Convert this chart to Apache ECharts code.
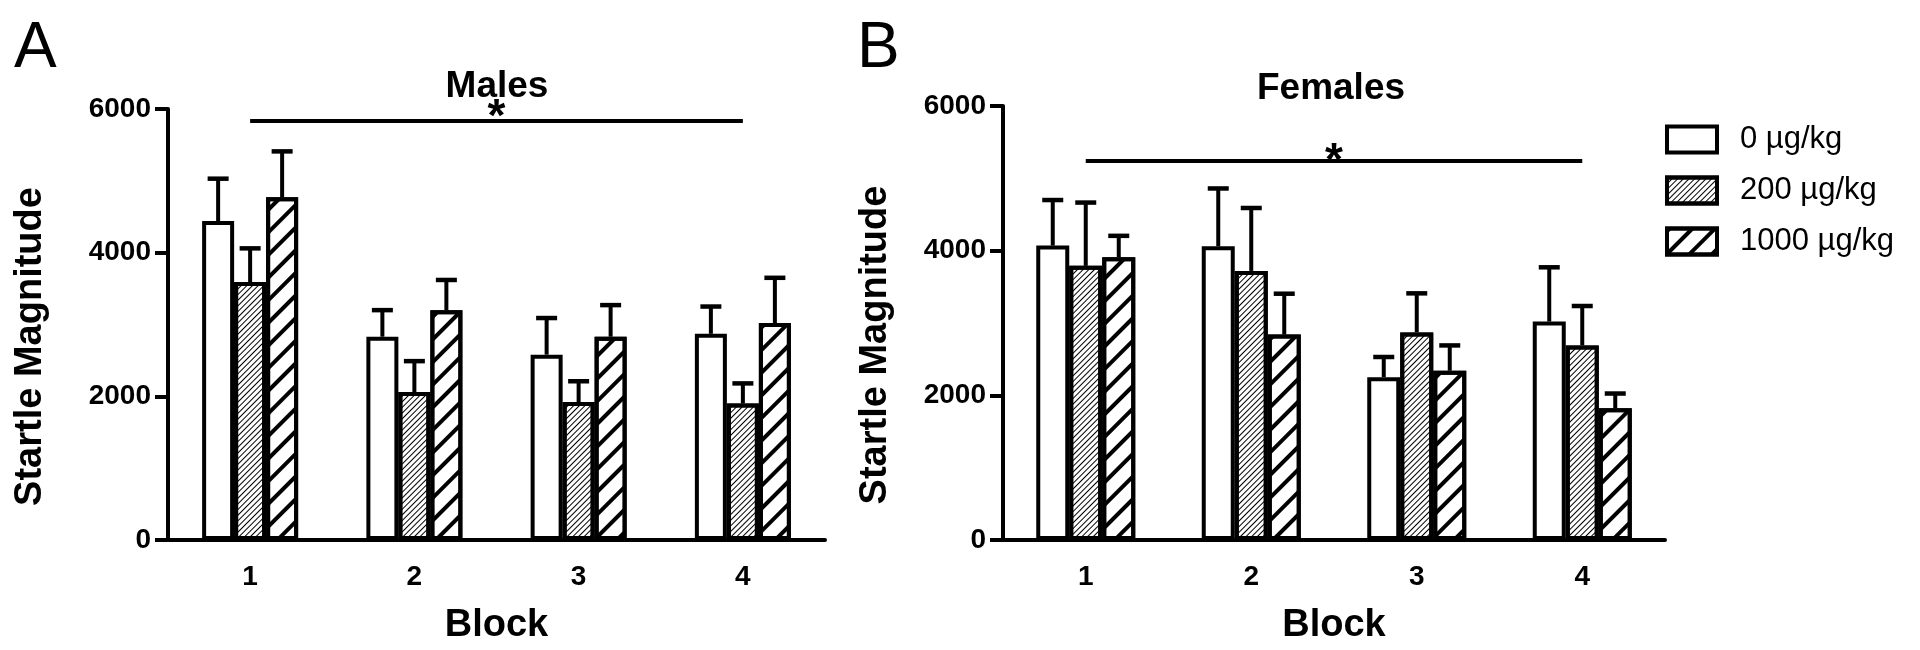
<!DOCTYPE html>
<html>
<head>
<meta charset="utf-8">
<script src="https://cdn.jsdelivr.net/npm/echarts@6/dist/echarts.min.js"></script>
<style>
html,body{margin:0;padding:0;background:#fff;}
#chart{width:1920px;height:650px;}
</style>
</head>
<body>
<div id="chart"></div>
<script>
// ---- data ----
const blocks = ['1', '2', '3', '4'];
const doseNames = ['0 µg/kg', '200 µg/kg', '1000 µg/kg'];
const yTicks = [0, 2000, 4000, 6000];

const male0 = [4440, 2830, 2580, 2870];
const male0Sem = [590, 370, 510, 380];
const male200 = [3590, 2060, 1920, 1900];
const male200Sem = [470, 430, 290, 280];
const male1000 = [4770, 3200, 2830, 3020];
const male1000Sem = [640, 420, 440, 630];

const female0 = [4070, 4060, 2250, 3020];
const female0Sem = [630, 800, 280, 750];
const female200 = [3790, 3720, 2870, 2690];
const female200Sem = [875, 870, 540, 545];
const female1000 = [3910, 2840, 2340, 1820];
const female1000Sem = [295, 565, 350, 205];

const maleSig = { from: '1', to: '4', level: 5830, label: '*' };
const femaleSig = { from: '1', to: '4', level: 5240, label: '*' };

// ---- style ----
const FONT = "'Liberation Sans', Arial, Helvetica, sans-serif";
const LW = 4;
const BAR_W = [32, 33];
const CAP_W = 21;
const decals = [
  null,
  { symbol: 'rect', symbolSize: 1, dashArrayX: [1, 0], dashArrayY: [1, 2.3], rotation: -Math.PI / 4, color: '#000' },
  { symbol: 'rect', symbolSize: 1, dashArrayX: [1, 0], dashArrayY: [3.2, 11.3], rotation: -Math.PI / 4, color: '#000' }
];

const chart = echarts.init(document.getElementById('chart'), null, { renderer: 'canvas' });

function errRender(offsetIdx, barW) {
  return function (params, api) {
    const x = api.value(0), top = api.value(1), mean = api.value(2);
    const pTop = api.coord([x, top]);
    const pMean = api.coord([x, mean]);
    const cx = pTop[0] + offsetIdx * barW;
    return {
      type: 'group',
      children: [
        { type: 'line', shape: { x1: cx, y1: pMean[1], x2: cx, y2: pTop[1] }, style: { stroke: '#000', lineWidth: LW } },
        { type: 'line', shape: { x1: cx - CAP_W / 2, y1: pTop[1], x2: cx + CAP_W / 2, y2: pTop[1] }, style: { stroke: '#000', lineWidth: 4.5 } }
      ]
    };
  };
}

const panels = [
  { means: [male0, male200, male1000], sems: [male0Sem, male200Sem, male1000Sem], sig: maleSig, starGap: -20 },
  { means: [female0, female200, female1000], sems: [female0Sem, female200Sem, female1000Sem], sig: femaleSig, starGap: -24 }
];

const series = [];
panels.forEach((p, gi) => {
  p.means.forEach((vals, si) => {
    const s = {
      name: doseNames[si],
      type: 'bar',
      xAxisIndex: gi, yAxisIndex: gi,
      data: vals,
      barWidth: BAR_W[gi],
      barGap: '0%',
      z: 3,
      itemStyle: { color: '#fff', borderColor: '#000', borderWidth: LW, decal: decals[si] || undefined },
      emphasis: { disabled: true },
      animation: false
    };
    if (si === 1) {
      s.markLine = {
        silent: true, symbol: 'none', animation: false,
        lineStyle: { color: '#000', width: LW, type: 'solid' },
        label: { show: true, position: 'middle', formatter: p.sig.label, color: '#000', fontFamily: FONT, fontWeight: 'bold', fontSize: 46, distance: p.starGap },
        data: [[{ xAxis: p.sig.from, yAxis: p.sig.level }, { xAxis: p.sig.to, yAxis: p.sig.level }]]
      };
    }
    series.push(s);
  });
  p.means.forEach((vals, si) => {
    series.push({
      name: 'err-' + gi + '-' + si,
      type: 'custom',
      xAxisIndex: gi, yAxisIndex: gi,
      z: 2,
      silent: true,
      animation: false,
      renderItem: errRender(si - 1, BAR_W[gi]),
      data: vals.map((v, i) => [i, v + p.sems[si][i], v])
    });
  });
});

const grids = [
  { left: 168, top: 109, width: 657, height: 437.5 },
  { left: 1003, top: 106, width: 662, height: 441.5 }
];

function xAx(i) {
  return {
    type: 'category', gridIndex: i, data: blocks,
    name: 'Block', nameLocation: 'middle', nameGap: 67,
    nameTextStyle: { color: '#000', fontFamily: FONT, fontWeight: 'bold', fontSize: 38 },
    axisLine: { lineStyle: { color: '#000', width: LW } },
    axisTick: { show: false },
    axisLabel: { color: '#000', fontFamily: FONT, fontWeight: 'bold', fontSize: 28, margin: 23 },
    splitLine: { show: false }
  };
}
function yAx(i, gap, shift) {
  return {
    type: 'value', gridIndex: i, min: yTicks[0], max: yTicks[yTicks.length - 1], interval: yTicks[1] - yTicks[0],
    name: 'Startle Magnitude', nameLocation: 'middle', nameGap: gap,
    nameTextStyle: { color: '#000', fontFamily: FONT, fontWeight: 'bold', fontSize: 38, padding: [0, shift * 2, 0, 0] },
    axisLine: { show: true, lineStyle: { color: '#000', width: LW } },
    axisTick: { show: true, length: 13, lineStyle: { color: '#000', width: LW } },
    axisLabel: { color: '#000', fontFamily: FONT, fontWeight: 'bold', fontSize: 28, margin: 17, formatter: v => String(v) },
    splitLine: { show: false }
  };
}

chart.setOption({
  backgroundColor: '#fff',
  animation: false,
  title: [
    { text: 'A', left: 9, top: 12, textStyle: { color: '#000', fontFamily: FONT, fontWeight: 'normal', fontSize: 64 } },
    { text: 'Males', left: 492, top: 63, textAlign: 'center', textStyle: { color: '#000', fontFamily: FONT, fontWeight: 'bold', fontSize: 37 } },
    { text: 'B', left: 852, top: 12, textStyle: { color: '#000', fontFamily: FONT, fontWeight: 'normal', fontSize: 64 } },
    { text: 'Females', left: 1326, top: 65, textAlign: 'center', textStyle: { color: '#000', fontFamily: FONT, fontWeight: 'bold', fontSize: 37 } }
  ],
  legend: {
    data: doseNames,
    orient: 'vertical',
    left: 1660, top: 119,
    itemWidth: 50, itemHeight: 26, itemGap: 20,
    icon: 'rect',
    selectedMode: false,
    itemStyle: { borderColor: '#000', borderWidth: 4 },
    textStyle: { color: '#000', fontFamily: FONT, fontSize: 31, lineHeight: 26, padding: [0, 0, 0, 18] }
  },
  grid: grids,
  xAxis: [xAx(0), xAx(1)],
  yAxis: [yAx(0, 118, 22), yAx(1, 108, 22)],
  series: series
});
</script>
</body>
</html>
